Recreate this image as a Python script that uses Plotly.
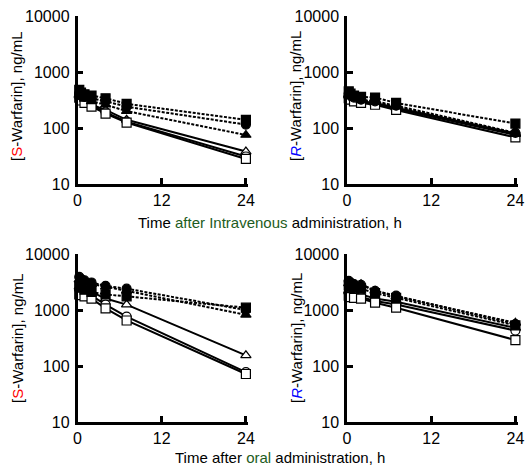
import plotly.graph_objects as go

W, H = 530, 466

times = [0.25, 0.5, 1, 2, 4, 7, 24]

# top-left: S-warfarin, IV
s_iv_fsq = [480, 430, 400, 380, 340, 270, 140]
s_iv_fci = [420, 380, 360, 340, 300, 240, 115]
s_iv_ftr = [400, 360, 330, 300, 260, 200, 75]
s_iv_otr = [380, 330, 300, 260, 210, 140, 38]
s_iv_oci = [360, 320, 290, 250, 190, 130, 31]
s_iv_osq = [350, 310, 280, 240, 180, 125, 28]

# top-right: R-warfarin, IV
r_iv_fsq = [450, 410, 380, 360, 350, 280, 120]
r_iv_fci = [420, 380, 350, 320, 300, 250, 82]
r_iv_ftr = [400, 370, 340, 310, 290, 240, 78]
r_iv_otr = [380, 350, 320, 300, 280, 230, 80]
r_iv_oci = [360, 340, 310, 290, 270, 220, 75]
r_iv_osq = [340, 320, 300, 280, 260, 210, 68]

# bottom-left: S-warfarin, oral
s_po_fci = [3900, 3600, 3400, 3100, 2700, 2400, 1000]
s_po_ftr = [3500, 3300, 3100, 2900, 2600, 2200, 820]
s_po_fsq = [2700, 2500, 2300, 2100, 1900, 1750, 1100]
s_po_otr = [2600, 2500, 2400, 2100, 1600, 1250, 155]
s_po_oci = [2300, 2200, 2000, 1800, 1250, 760, 78]
s_po_osq = [1900, 1850, 1750, 1600, 1070, 650, 72]

# bottom-right: R-warfarin, oral
r_po_fci = [3300, 3100, 2900, 2800, 2200, 1800, 560]
r_po_ftr = [3000, 2900, 2800, 2900, 2200, 1750, 590]
r_po_fsq = [2800, 2600, 2500, 2400, 2000, 1650, 530]
r_po_otr = [2200, 2100, 2000, 1900, 1600, 1400, 480]
r_po_oci = [2000, 1900, 1850, 1700, 1450, 1250, 430]
r_po_osq = [1800, 1700, 1650, 1600, 1350, 1100, 290]

x_ticks = [0, 12, 24]
y_ticks = [10, 100, 1000, 10000]
y_tick_labels = ["10", "100", "1000", "10000"]

panels = [
    ("x", "y", [s_iv_fsq, s_iv_fci, s_iv_ftr, s_iv_otr, s_iv_oci, s_iv_osq]),
    ("x2", "y2", [r_iv_fsq, r_iv_fci, r_iv_ftr, r_iv_otr, r_iv_oci, r_iv_osq]),
    ("x3", "y3", [s_po_fsq, s_po_fci, s_po_ftr, s_po_otr, s_po_oci, s_po_osq]),
    ("x4", "y4", [r_po_fsq, r_po_fci, r_po_ftr, r_po_otr, r_po_oci, r_po_osq]),
]

styles = [
    ("square", "black", "3px,1.5px"),
    ("circle", "black", "3px,1.5px"),
    ("triangle-up", "black", "3px,1.5px"),
    ("triangle-up", "white", "solid"),
    ("circle", "white", "solid"),
    ("square", "white", "solid"),
]

fig = go.Figure()
for xa, ya, series in panels:
    for idx in [3, 4, 5, 0, 1, 2]:
        sym, fill, dash = styles[idx]
        fig.add_trace(go.Scatter(
            x=times, y=series[idx], xaxis=xa, yaxis=ya, mode="lines+markers",
            line=dict(color="black", width=2, dash=dash),
            marker=dict(symbol=sym, size=9, color=fill,
                        line=dict(color="black", width=1.2)),
            cliponaxis=False, showlegend=False))

def px_x(p):
    return p / W

def px_y(p):
    return 1 - p / H

col_dom = [(77.5, 248), (347, 517.5)]
row_dom = [(16, 184), (254, 422)]

axis_common = dict(showline=True, linecolor="black", linewidth=2.5, ticks="inside",
                   ticklen=6, tickwidth=2.5, tickcolor="black", showgrid=False,
                   zeroline=False, automargin=False,
                   tickfont=dict(family="Liberation Sans, Arial", size=16, color="black"))

layout = dict(width=W, height=H, margin=dict(l=0, r=0, t=0, b=0, autoexpand=False),
              paper_bgcolor="white", plot_bgcolor="white")
names = [("xaxis", "yaxis"), ("xaxis2", "yaxis2"), ("xaxis3", "yaxis3"), ("xaxis4", "yaxis4")]
anchors = [("y", "x"), ("y2", "x2"), ("y3", "x3"), ("y4", "x4")]
for i, ((xn, yn), (xan, yan)) in enumerate(zip(names, anchors)):
    r, c = divmod(i, 2)
    cx0, cx1 = col_dom[c]
    ry0, ry1 = row_dom[r]
    layout[xn] = dict(axis_common, domain=[px_x(cx0), px_x(cx1)], range=[0, 24.3],
                      tickvals=x_ticks, anchor=xan)
    layout[yn] = dict(axis_common, domain=[px_y(ry1), px_y(ry0)], type="log",
                      range=[1, 4], tickvals=y_ticks, ticktext=y_tick_labels, anchor=yan,
                      ticklabelstandoff=2)
fig.update_layout(**layout)

green = "#1d5c22"
font = dict(family="Liberation Sans, Arial", size=15, color="black")
ann = []
ann.append(dict(x=px_x(270), y=px_y(222), xref="paper", yref="paper", showarrow=False,
                text=f"Time <span style='color:{green}'>after Intravenous</span> administration, h",
                font=font, xanchor="center", yanchor="middle"))
ann.append(dict(x=px_x(280), y=px_y(457), xref="paper", yref="paper", showarrow=False,
                text=f"Time after <span style='color:{green}'>oral</span> administration, h",
                font=font, xanchor="center", yanchor="middle"))
s_title = "[<span style='color:#ff0000'>S</span>-Warfarin], ng/mL"
r_title = "[<span style='color:#0000ff'><i>R</i></span>-Warfarin], ng/mL"
for (tx, ty, t) in [(17, 96, s_title), (296, 96, r_title), (17, 338, s_title), (296, 338, r_title)]:
    ann.append(dict(x=px_x(tx), y=px_y(ty), xref="paper", yref="paper", showarrow=False,
                    text=t, textangle=-90, font=font, xanchor="center", yanchor="middle"))
fig.update_layout(annotations=ann)

fig.write_html("out.html", config={"displayModeBar": False},
               post_script="document.body.style.margin='0px';document.body.style.padding='0px';")
